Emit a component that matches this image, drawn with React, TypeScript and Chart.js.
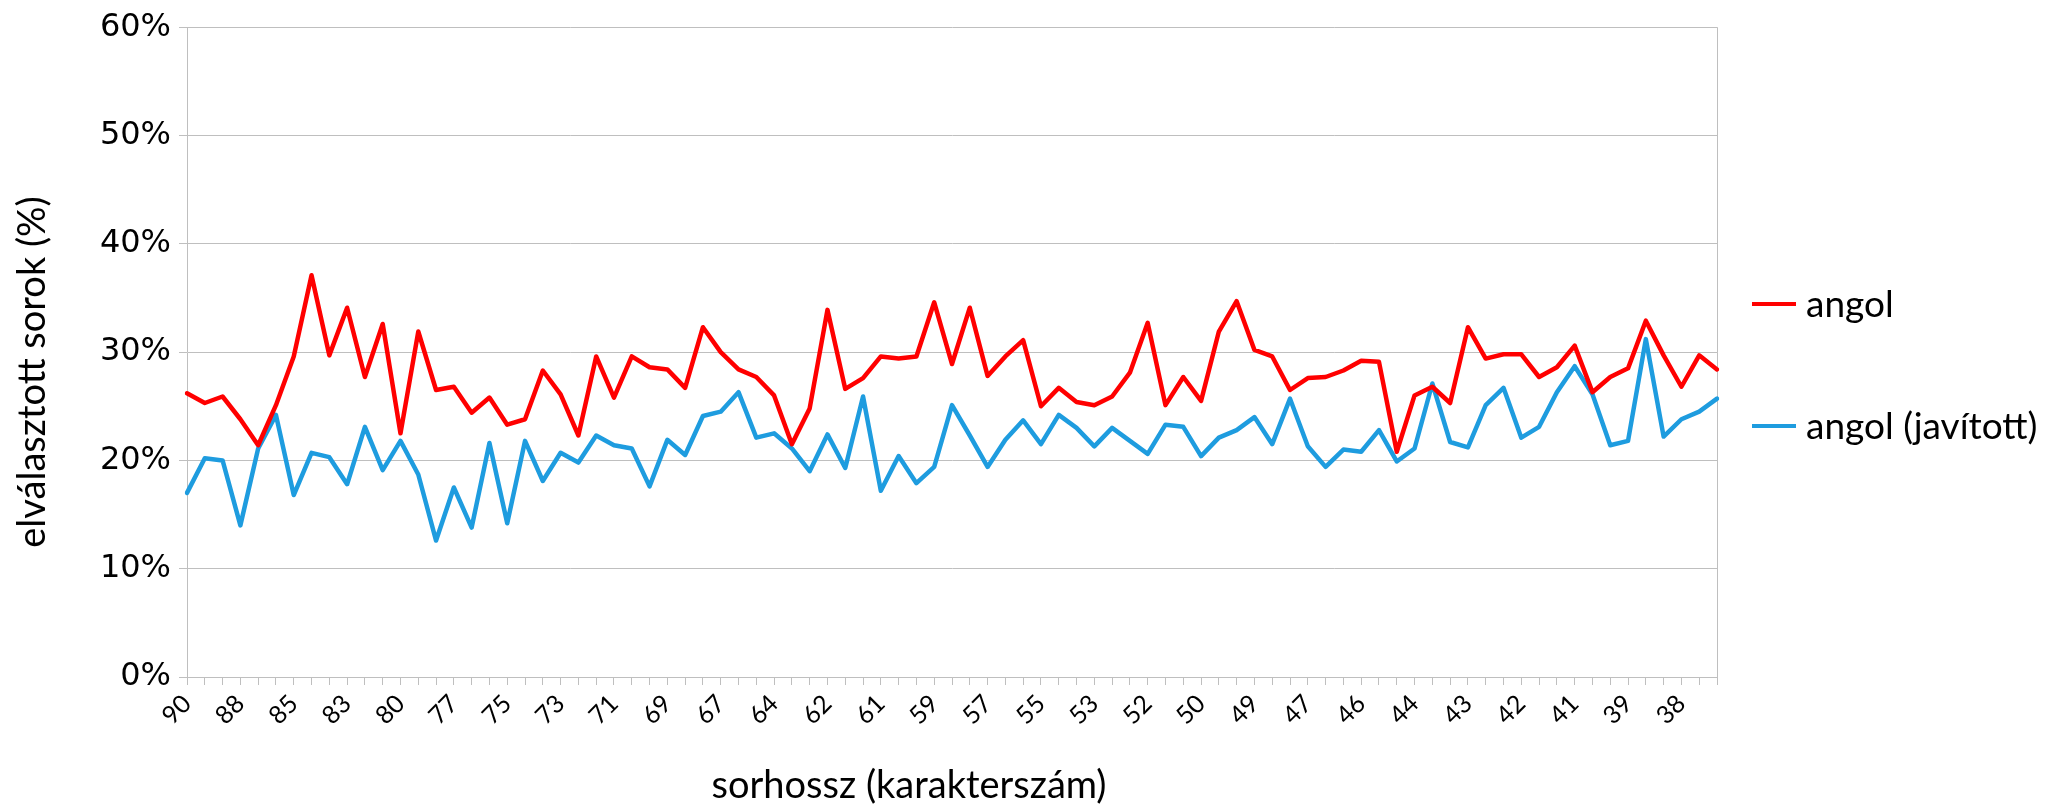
import React, { useEffect, useRef } from 'react';
import { Chart, registerables } from 'chart.js';

Chart.register(...registerables);

// x categories (line length in characters); every third one is labelled
const categories: string[] = [
  '90', '89', '89', '88', '87', '86', '85', '84', '84', '83',
  '82', '81', '80', '79', '78', '77', '76', '76', '75', '74',
  '74', '73', '72', '72', '71', '70', '70', '69', '68', '68',
  '67', '66', '65', '64', '63', '63', '62', '62', '61', '61',
  '60', '60', '59', '58', '58', '57', '56', '56', '55', '54',
  '54', '53', '53', '52', '52', '51', '51', '50', '50', '49',
  '49', '48', '48', '47', '47', '46', '46', '45', '45', '44',
  '44', '43', '43', '43', '42', '42', '42', '41', '41', '41',
  '40', '39', '39', '39', '38', '38', '37',
];

// series values (%)
const angol: number[] = [
  26.2, 25.3, 25.9, 23.8, 21.4, 25.1, 29.6, 37.1, 29.7, 34.1,
  27.7, 32.6, 22.5, 31.9, 26.5, 26.8, 24.4, 25.8, 23.3, 23.8,
  28.3, 26.1, 22.3, 29.6, 25.8, 29.6, 28.6, 28.4, 26.7, 32.3,
  30.0, 28.4, 27.7, 26.0, 21.5, 24.8, 33.9, 26.6, 27.6, 29.6,
  29.4, 29.6, 34.6, 28.9, 34.1, 27.8, 29.6, 31.1, 25.0, 26.7,
  25.4, 25.1, 25.9, 28.1, 32.7, 25.1, 27.7, 25.5, 31.9, 34.7,
  30.2, 29.6, 26.5, 27.6, 27.7, 28.3, 29.2, 29.1, 20.8, 26.0,
  26.8, 25.3, 32.3, 29.4, 29.8, 29.8, 27.7, 28.6, 30.6, 26.3,
  27.7, 28.5, 32.9, 29.7, 26.8, 29.7, 28.4,
];

const angolJavitott: number[] = [
  17.0, 20.2, 20.0, 14.0, 21.1, 24.2, 16.8, 20.7, 20.3, 17.8,
  23.1, 19.1, 21.8, 18.7, 12.6, 17.5, 13.8, 21.6, 14.2, 21.8,
  18.1, 20.7, 19.8, 22.3, 21.4, 21.1, 17.6, 21.9, 20.5, 24.1,
  24.5, 26.3, 22.1, 22.5, 21.1, 19.0, 22.4, 19.3, 25.9, 17.2,
  20.4, 17.9, 19.4, 25.1, 22.3, 19.4, 21.9, 23.7, 21.5, 24.2,
  23.0, 21.3, 23.0, 21.8, 20.6, 23.3, 23.1, 20.4, 22.1, 22.8,
  24.0, 21.5, 25.7, 21.3, 19.4, 21.0, 20.8, 22.8, 19.9, 21.1,
  27.1, 21.7, 21.2, 25.1, 26.7, 22.1, 23.1, 26.3, 28.7, 26.1,
  21.4, 21.8, 31.2, 22.2, 23.8, 24.5, 25.7,
];

const seriesNames: string[] = ['angol', 'angol (javított)'];
const seriesColors: string[] = ['#FF0000', '#1E9CDF'];
const xTitle = 'sorhossz (karakterszám)';
const yTitle = 'elválasztott sorok (%)';
const yMin = 0;
const yMax = 60;
const yStep = 10;
const labelEvery = 3;

const W = 2047;
const H = 806;
const PLOT = { left: 187, top: 22, right: 1717, bottom: 677 };
const GRID = '#BFBFBF';
const TITLE_FONT = '38px Lato';
const LEGEND_FONT = '37px Lato';

const overlayPlugin = {
  id: 'overlay',
  afterDraw(chart: any) {
    const { ctx } = chart;
    ctx.save();
    ctx.fillStyle = '#000';
    ctx.font = TITLE_FONT;
    ctx.textAlign = 'center';
    ctx.textBaseline = 'middle';
    ctx.fillText(xTitle, 909, 786);
    ctx.save();
    ctx.translate(33, 372);
    ctx.rotate(-Math.PI / 2);
    ctx.fillText(yTitle, 0, 0);
    ctx.restore();

    const legendY = [304, 426];
    chart.data.datasets.forEach((ds: any, i: number) => {
      const y = legendY[i];
      ctx.strokeStyle = ds.borderColor;
      ctx.lineWidth = 4;
      ctx.lineCap = 'butt';
      ctx.beginPath();
      ctx.moveTo(1752, y);
      ctx.lineTo(1796, y);
      ctx.stroke();
      ctx.font = LEGEND_FONT;
      ctx.textAlign = 'left';
      ctx.textBaseline = 'middle';
      ctx.fillStyle = '#000';
      ctx.fillText(ds.label, 1806, y + 1);
    });
    ctx.restore();
  },
};

export default function App() {
  const canvasRef = useRef<HTMLCanvasElement | null>(null);

  useEffect(() => {
    if (!canvasRef.current) return;
    const chart = new Chart(canvasRef.current, {
      type: 'line',
      data: {
        labels: categories,
        datasets: [
          {
            label: seriesNames[0],
            data: angol,
            borderColor: seriesColors[0],
            backgroundColor: seriesColors[0],
            borderWidth: 4.5,
            pointRadius: 0,
            tension: 0,
            borderJoinStyle: 'round',
            borderCapStyle: 'round',
          },
          {
            label: seriesNames[1],
            data: angolJavitott,
            borderColor: seriesColors[1],
            backgroundColor: seriesColors[1],
            borderWidth: 4.5,
            pointRadius: 0,
            tension: 0,
            borderJoinStyle: 'round',
            borderCapStyle: 'round',
          },
        ],
      },
      options: {
        responsive: false,
        animation: false,
        layout: { padding: { top: PLOT.top, right: W - PLOT.right, left: 0, bottom: 0 } },
        plugins: {
          legend: { display: false },
          tooltip: { enabled: false },
        },
        scales: {
          x: {
            type: 'category',
            offset: false,
            grid: {
              display: true,
              drawOnChartArea: true,
              color: (c: any) => (c.index === categories.length - 1 ? GRID : 'rgba(0,0,0,0)'),
              tickColor: GRID,
              tickLength: 8,
              lineWidth: 1,
            },
            border: { display: true, color: GRID, width: 1 },
            ticks: {
              autoSkip: false,
              maxRotation: 45,
              minRotation: 45,
              padding: 4,
              color: '#000',
              font: { family: 'Lato', size: 25 },
              callback: (_v: any, i: number) => (i % labelEvery === 0 ? categories[i] : ''),
            },
            afterFit: (s: any) => {
              s.height = H - PLOT.bottom;
            },
          },
          y: {
            min: yMin,
            max: yMax,
            grid: { color: GRID, tickColor: GRID, tickLength: 8, lineWidth: 1 },
            border: { display: true, color: GRID, width: 1 },
            ticks: {
              stepSize: yStep,
              padding: 8,
              color: '#000',
              font: { family: 'DejaVu Sans', size: 32 },
              callback: (v: any) => `${v}%`,
            },
            afterFit: (s: any) => {
              s.width = PLOT.left;
            },
          },
        },
      },
      plugins: [overlayPlugin],
    } as any);
    return () => chart.destroy();
  }, []);

  return (
    <div style={{ position: 'fixed', left: 0, top: 0, width: W, height: H, background: '#fff' }}>
      <canvas ref={canvasRef} width={W} height={H} style={{ display: 'block' }} />
    </div>
  );
}
